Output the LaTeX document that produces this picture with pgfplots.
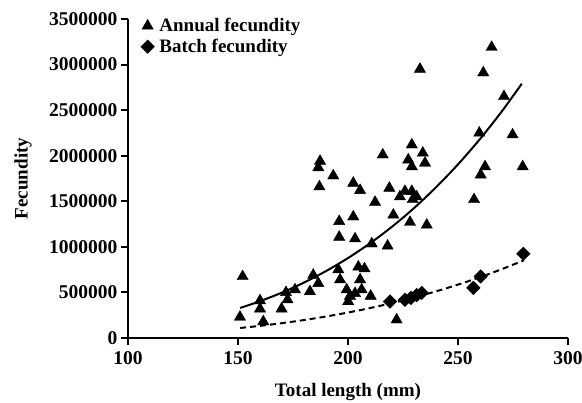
\documentclass[border=0pt]{standalone}
\usepackage{pgfplots}
\pgfplotsset{compat=1.18}
\usepackage{fontspec}
\setmainfont{Liberation Serif}
\begin{document}
\begin{tikzpicture}
\begin{axis}[
  name=main,
  scale only axis, width=440pt, height=319pt,
  xmin=100, xmax=300, ymin=0, ymax=3500000,
  axis lines*=left,
  axis line style={line width=2pt},
  xtick={100,150,200,250,300},
  ytick={0,500000,1000000,1500000,2000000,2500000,3000000,3500000},
  scaled y ticks=false,
  yticklabel style={/pgf/number format/fixed,/pgf/number format/1000 sep={}},
  xticklabel style={yshift=-3pt},
  /pgf/number format/assume math mode=true,
  tick style={line width=2pt,black},
  tick align=outside, major tick length=7pt,
  ticklabel style={font=\fontsize{19.5}{22}\selectfont\bfseries},
  xlabel={Total length (mm)}, ylabel={Fecundity},
  label style={font=\fontsize{19}{22}\selectfont\bfseries},
  xlabel style={at={(axis description cs:0.5,-0.1693)}, anchor=center},
  ylabel style={at={(axis description cs:-0.2386,0.5)}, anchor=center},
  legend style={at={(0.022,1.015)}, anchor=north west, draw=none, fill=none,
    font=\fontsize{19}{22}\selectfont\bfseries, row sep=2pt,
    nodes={inner xsep=5pt}},
  legend cell align=left,
  clip=false,
]
\addplot[only marks, mark=triangle*, mark size=6.5pt, black] coordinates {
(150.9,230000) (152.1,675000) (160,410000) (160,320000) (161.5,180000)
(169.8,320000) (171.8,500000) (172.5,420000) (175.9,530000) (182.7,510000)
(184.2,690000) (186.5,600000) (187.3,1940000) (186.5,1870000) (187,1660000)
(193.3,1780000) (195.6,750000) (196.4,640000) (196,1280000) (196,1107000)
(199.4,530000) (200.9,460000) (200.1,400000) (202.4,1700000) (202.4,1330000)
(203.2,1089000) (203.2,490000) (204.7,780000) (207.5,760000) (205.5,640000)
(206.2,530000) (205.5,1620000) (210.3,460000) (210.8,1034000) (212.3,1490000)
(215.8,2010000) (218,1010000) (218.8,1645000) (220.6,1350000) (222.1,200000)
(223.6,1550000) (225.9,1610000) (227.4,1955000) (228.2,1270000) (229,2120000)
(229,1880000) (229,1610000) (229.4,1520000) (231.2,1550000) (232.7,2950000)
(234,2030000) (235,1920000) (235.8,1240000) (257.3,1520000) (259.7,2250000)
(260.3,1790000) (261.5,2910000) (262.3,1880000) (265.3,3190000) (270.9,2650000)
(274.8,2230000) (279.4,1880000)
};
\addlegendentry{Annual fecundity}
\addplot[only marks, mark=square*, mark size=4.8pt, mark options={rotate=45}, black] coordinates {
(219.1,400000) (225.9,420000) (228.6,440000) (231.2,470000) (233.5,495000)
(257,550000) (260.3,675000) (279.7,924000)
};
\addlegendentry{Batch fecundity}
\addplot[black, line width=2pt, smooth, forget plot] coordinates {
(151,330000) (160,403600) (170,498300) (180,608000) (190,734000) (200,877000)
(210,1039000) (220,1221000) (230,1425000) (240,1653000) (250,1905000)
(260,2183000) (270,2489000) (279,2790000)
};
\addplot[black, line width=2pt, dash pattern=on 6pt off 4pt, smooth, forget plot] coordinates {
(151,110000) (160,133300) (170,163000) (180,197000) (190,235800) (200,279400)
(210,328500) (220,383300) (230,444200) (240,511600) (250,585800)
(260,667000) (270,756000) (280,853000)
};
\end{axis}
\pgfresetboundingbox
\path[use as bounding box] ([xshift=-128pt,yshift=-65pt]main.south west) rectangle ([xshift=14pt,yshift=19pt]main.north east);
\end{tikzpicture}
\end{document}
